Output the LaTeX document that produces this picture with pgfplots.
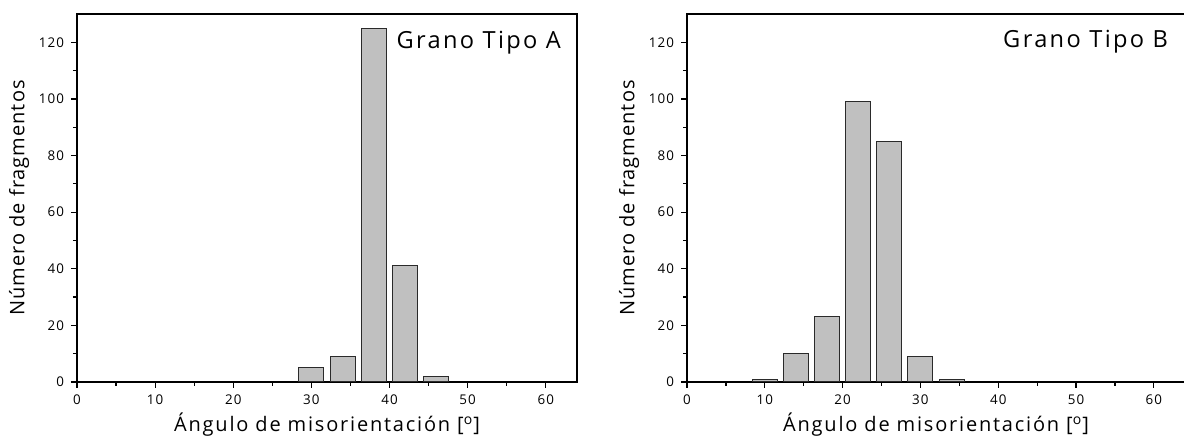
\documentclass[border=0pt]{standalone}
\usepackage{fontspec}
\setmainfont{Open Sans}[LetterSpace=8]
\newfontfamily\xlabfont{Open Sans}[LetterSpace=9]
\newfontfamily\ylabfont{Open Sans}[LetterSpace=5]
\newfontfamily\titfont{Open Sans}[LetterSpace=10]
\usepackage{pgfplots}
\pgfplotsset{compat=1.18}
\definecolor{barfill}{HTML}{C0C0C0}
\definecolor{baredge}{HTML}{2A2A2A}

\pgfplotsset{histo/.style={
  scale only axis, height=184pt,
  xmin=0, xmax=64, ymin=0, ymax=130,
  xtick={0,10,...,60}, ytick={0,20,...,120},
  minor x tick num=1, minor y tick num=1,
  tick align=outside, xtick pos=bottom, ytick pos=left,
  major tick length=3pt, minor tick length=2pt,
  axis line style={line width=0.75pt},
  every tick/.style={black, line width=0.6pt},
  tick label style={font=\fontsize{6.7}{8}\selectfont},
  /pgf/number format/assume math mode=true,
  xlabel={Ángulo de misorientación [\textsuperscript{o}]},
  ylabel={Número de fragmentos},
  every axis x label/.style={at={(axis description cs:0.5,-0.117)}, anchor=center,
    font=\xlabfont\fontsize{10}{12}\selectfont},
  every axis y label/.style={at={(axis description cs:-0.116,0.5)}, anchor=center,
    rotate=90, font=\ylabfont\fontsize{10}{12}\selectfont},
  ybar, bar width=3.2, bar shift=0pt,
}}

\begin{document}
\begin{tikzpicture}
\path[use as bounding box] (0,0) rectangle (592pt,221pt);

% Grano tipo A
\begin{axis}[histo, width=250pt, at={(38.5pt,30pt)}, anchor=south west]
  \addplot[fill=barfill, draw=baredge, line width=0.5pt]
    coordinates {(30,5) (34,9) (38,125) (42,41) (46,2)};
  \node[anchor=east, font=\titfont\fontsize{11.8}{14}\selectfont]
    at (axis description cs:0.982,0.921) {Grano Tipo A};
\end{axis}

% Grano tipo B
\begin{axis}[histo, width=249pt, at={(343.5pt,30pt)}, anchor=south west]
  \addplot[fill=barfill, draw=baredge, line width=0.5pt]
    coordinates {(10,1) (14,10) (18,23) (22,99) (26,85) (30,9) (34,1)};
  \node[anchor=east, font=\titfont\fontsize{11.8}{14}\selectfont]
    at (axis description cs:0.98,0.925) {Grano Tipo B};
\end{axis}
\end{tikzpicture}
\end{document}
